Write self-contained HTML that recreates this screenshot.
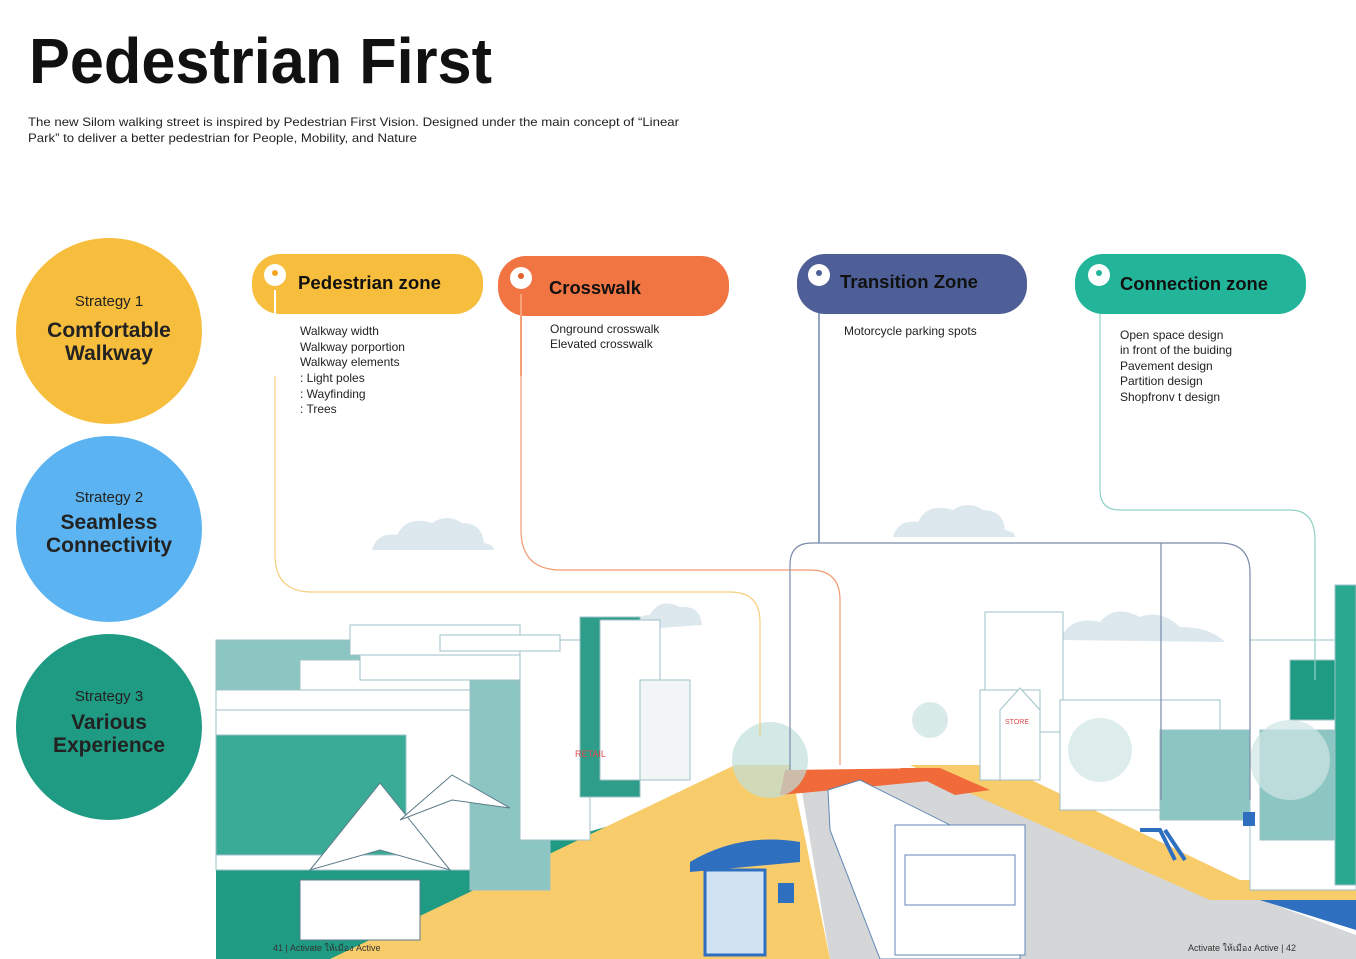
<!DOCTYPE html>
<html><head><meta charset="utf-8"><style>
html,body{margin:0;padding:0;background:#fff;}
svg{display:block;font-family:"Liberation Sans",sans-serif;}
</style></head><body>
<svg width="1356" height="959" viewBox="0 0 1356 959" xmlns="http://www.w3.org/2000/svg">
<rect width="1356" height="959" fill="#fff"/>
<text x="29" y="83" font-size="64" font-weight="bold" fill="#111" textLength="463" lengthAdjust="spacingAndGlyphs">Pedestrian First</text>
<text x="28" y="126" font-size="12" fill="#222" textLength="651" lengthAdjust="spacingAndGlyphs">The new Silom walking street is inspired by Pedestrian First Vision. Designed under the main concept of “Linear</text>
<text x="28" y="142" font-size="12" fill="#222" textLength="389" lengthAdjust="spacingAndGlyphs">Park” to deliver a better pedestrian for People, Mobility, and Nature</text>

<!-- strategy circles -->
<circle cx="109" cy="331" r="93" fill="#f7bd3c"/>
<text x="109" y="306" font-size="15" text-anchor="middle" fill="#222">Strategy 1</text>
<text x="109" y="337" font-size="21" font-weight="bold" text-anchor="middle" fill="#222">Comfortable</text>
<text x="109" y="360" font-size="21" font-weight="bold" text-anchor="middle" fill="#222">Walkway</text>
<circle cx="109" cy="529" r="93" fill="#5bb4f1"/>
<text x="109" y="502" font-size="15" text-anchor="middle" fill="#222">Strategy 2</text>
<text x="109" y="529" font-size="21" font-weight="bold" text-anchor="middle" fill="#222">Seamless</text>
<text x="109" y="552" font-size="21" font-weight="bold" text-anchor="middle" fill="#222">Connectivity</text>
<circle cx="109" cy="727" r="93" fill="#1f9b83"/>
<text x="109" y="701" font-size="15" text-anchor="middle" fill="#222">Strategy 3</text>
<text x="109" y="729" font-size="21" font-weight="bold" text-anchor="middle" fill="#222">Various</text>
<text x="109" y="752" font-size="21" font-weight="bold" text-anchor="middle" fill="#222">Experience</text>

<!-- clouds -->
<g fill="#dde7ee">
<path d="M372 550 q5-18 25-15 q10-20 35-12 q15-10 30 0 q20 0 22 20 q10 2 10 7 z"/>
<path d="M893 537 q5-18 25-15 q10-20 35-12 q15-10 30 0 q20 0 22 20 q10 2 10 7 z"/>
<path d="M630 630 q5-15 20-15 q10-18 30-8 q20-2 22 18 z"/>
<path d="M1060 640 q10-25 40-18 q15-18 40-5 q20-8 40 10 q30 0 45 15 z"/>
</g>

<!-- ground areas -->
<polygon points="216,860 560,840 700,800 500,959 216,959" fill="#1f9b83"/>
<polygon points="735,765 790,765 830,959 330,959" fill="#f8cc6a"/>
<polygon points="800,780 940,780 1356,935 1356,959 830,959" fill="#d4d6d8"/>
<polygon points="910,765 1000,765 1240,880 1356,880 1356,900 1210,900 940,780" fill="#f8cc6a"/>
<polygon points="1260,900 1356,900 1356,930" fill="#2f6fc0"/>
<!-- crosswalk -->
<polygon points="785,770 935,768 940,780 780,795" fill="#f06a3a"/>
<polygon points="900,768 940,768 990,790 955,795" fill="#f06a3a"/>

<!-- left buildings -->
<g stroke="#9fc2c8" stroke-width="1">
<rect x="216" y="700" width="260" height="170" fill="#fff"/>
<rect x="216" y="735" width="190" height="120" fill="#3aab96"/>
<rect x="216" y="640" width="160" height="50" fill="#8cc6c3"/>
<rect x="216" y="690" width="290" height="20" fill="#fff"/>
<rect x="300" y="660" width="260" height="30" fill="#fff"/>
<rect x="360" y="650" width="200" height="30" fill="#fff"/>
<rect x="470" y="680" width="80" height="210" fill="#8cc6c3"/>
<rect x="520" y="640" width="70" height="200" fill="#fff"/>
<rect x="580" y="617" width="60" height="180" fill="#2e9e8a"/>
<rect x="600" y="620" width="60" height="160" fill="#fff"/>
<rect x="640" y="680" width="50" height="100" fill="#f1f5f6"/>
<rect x="350" y="625" width="170" height="30" fill="#fff"/>
<rect x="440" y="635" width="120" height="16" fill="#fff"/>
</g>
<g fill="#fff" stroke="#5d7c8a" stroke-width="1">
<polygon points="310,870 380,783 450,870 380,850"/>
<polygon points="400,820 452,775 510,808 452,800"/>
<rect x="300" y="880" width="120" height="60"/>
</g>
<text x="575" y="757" font-size="9" fill="#e04a4a">RETAIL</text>

<!-- right buildings -->
<g stroke="#9fc2c8" stroke-width="1">
<rect x="985" y="612" width="78" height="120" fill="#fff"/>
<rect x="980" y="690" width="60" height="90" fill="#fff"/>
<polygon points="1000,710 1020,688 1040,710 1040,780 1000,780" fill="#fff"/>
<rect x="1060" y="700" width="160" height="110" fill="#fff"/>
<rect x="1160" y="730" width="100" height="90" fill="#8cc6c3"/>
<rect x="1250" y="640" width="106" height="250" fill="#fff"/>
<rect x="1290" y="660" width="66" height="60" fill="#1f9b83"/>
<rect x="1260" y="730" width="96" height="110" fill="#8cc6c3"/>
<rect x="1335" y="585" width="21" height="300" fill="#2aa890"/>
</g>
<circle cx="1290" cy="760" r="40" fill="#cfe6e4" opacity="0.7"/>
<circle cx="1100" cy="750" r="32" fill="#cfe6e4" opacity="0.7"/>
<circle cx="770" cy="760" r="38" fill="#bfe0dc" opacity="0.7"/>
<circle cx="930" cy="720" r="18" fill="#cfe6e4" opacity="0.8"/>
<text x="1005" y="724" font-size="7" fill="#e04a4a">STORE</text>

<!-- bus -->
<polygon points="828,790 860,780 1020,860 1020,959 880,959 830,830" fill="#fff" stroke="#5f87b5"/>
<rect x="895" y="825" width="130" height="130" fill="#fff" stroke="#5f87b5"/>
<rect x="905" y="855" width="110" height="50" fill="#fff" stroke="#5f87b5"/>
<!-- bus stop -->
<path d="M690 862 q50-30 110-20 l0 20 l-110 10z" fill="#2f6fc0"/>
<rect x="705" y="870" width="60" height="85" fill="#cfe3f3" stroke="#2f6fc0" stroke-width="3"/>
<rect x="778" y="883" width="16" height="20" fill="#2f6fc0"/>
<!-- bike rack -->
<path d="M1140 830 l20 0 l15 30 M1165 830 l20 30" stroke="#2f6fc0" stroke-width="4" fill="none"/>
<rect x="1243" y="812" width="12" height="14" fill="#2f6fc0"/>

<!-- connectors -->
<g fill="none" stroke-width="1.2">
<path d="M275 290 V555 q0 37 37 37 H730 q30 0 30 30 V735" stroke="#f6cf7e"/>
<path d="M521 290 V530 q0 40 40 40 H810 q30 0 30 30 V765" stroke="#f39a72"/>
<path d="M819 290 V543" stroke="#4d6a9e"/>
<path d="M790 770 V565 q0-22 22-22 H1220 q30 0 30 30 V800" stroke="#7b8bab"/>
<path d="M1161 543 V800" stroke="#7b8bab"/>
<path d="M1100 290 V490 q0 20 20 20 H1290 q25 0 25 30 V680" stroke="#8fd1c5"/>
</g>

<!-- pills -->
<rect x="252" y="254" width="231" height="60" rx="28" fill="#f7bd3c"/>
<rect x="498" y="256" width="231" height="60" rx="28" fill="#f07543"/>
<rect x="797" y="254" width="230" height="60" rx="28" fill="#4d5f96"/>
<rect x="1075" y="254" width="231" height="60" rx="28" fill="#22b59a"/>
<g fill="#fff">
<circle cx="275" cy="275" r="11"/><circle cx="521" cy="278" r="11"/><circle cx="819" cy="275" r="11"/><circle cx="1099" cy="275" r="11"/>
</g>
<g fill="#f6a623"><circle cx="275" cy="273" r="3"/></g>
<g fill="#e25f2c"><circle cx="521" cy="276" r="3"/></g>
<g fill="#4d5f96"><circle cx="819" cy="273" r="3"/></g>
<g fill="#22b59a"><circle cx="1099" cy="273" r="3"/></g>
<rect x="274" y="290" width="2" height="86" fill="#fff"/>
<rect x="520" y="294" width="2" height="82" fill="#f6a07a"/>
<text x="298" y="289" font-size="18" font-weight="bold" fill="#111" textLength="143" lengthAdjust="spacingAndGlyphs">Pedestrian zone</text>
<text x="549" y="294" font-size="18" font-weight="bold" fill="#111" textLength="92" lengthAdjust="spacingAndGlyphs">Crosswalk</text>
<text x="840" y="288" font-size="18" font-weight="bold" fill="#111" textLength="138" lengthAdjust="spacingAndGlyphs">Transition Zone</text>
<text x="1120" y="290" font-size="18" font-weight="bold" fill="#111" textLength="148" lengthAdjust="spacingAndGlyphs">Connection zone</text>

<g font-size="12" fill="#222">
<text x="300" y="335">Walkway width</text>
<text x="300" y="351">Walkway porportion</text>
<text x="300" y="366">Walkway elements</text>
<text x="300" y="382">: Light poles</text>
<text x="300" y="398">: Wayfinding</text>
<text x="300" y="413">: Trees</text>
<text x="550" y="333">Onground crosswalk</text>
<text x="550" y="348">Elevated crosswalk</text>
<text x="844" y="335">Motorcycle parking spots</text>
<text x="1120" y="339">Open space design</text>
<text x="1120" y="354">in front of the buiding</text>
<text x="1120" y="370">Pavement design</text>
<text x="1120" y="385">Partition design</text>
<text x="1120" y="401">Shopfronv t design</text>
</g>
<text x="273" y="951" font-size="9" fill="#333">41 | Activate ให้เมือง Active</text>
<text x="1188" y="951" font-size="9" fill="#333">Activate ให้เมือง Active | 42</text>
</svg>
</body></html>
